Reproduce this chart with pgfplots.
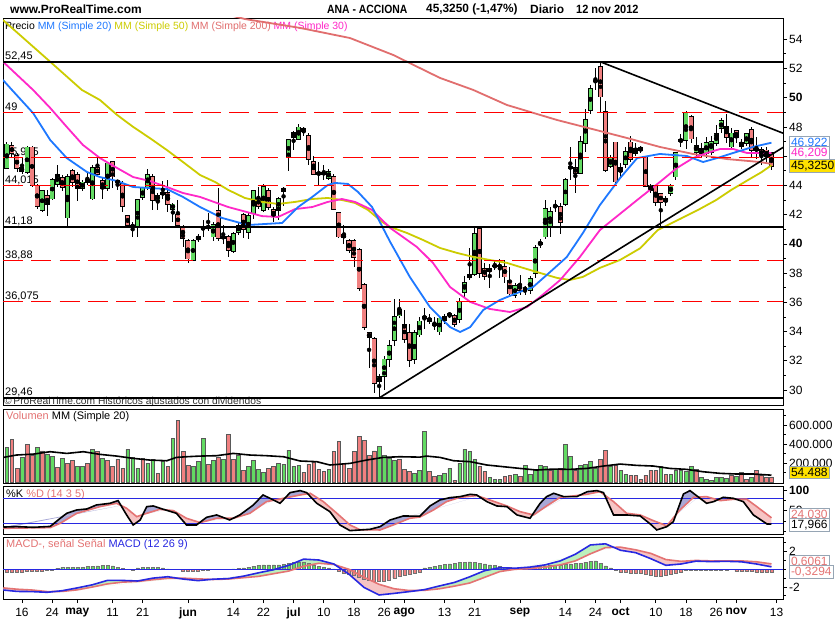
\documentclass[border=0pt]{standalone}
\usepackage{graphicx}
\usepackage{pgfplots}
\pgfplotsset{compat=1.18}
\usepackage{pgfplotstable}
\usepackage{fontspec}
\setmainfont{Liberation Sans}
\setsansfont{Liberation Sans}

\definecolor{upf}{RGB}{98,218,98}
\definecolor{dnf}{RGB}{240,128,128}
\definecolor{maA}{RGB}{30,120,255}
\definecolor{maB}{RGB}{204,204,0}
\definecolor{maC}{RGB}{225,110,110}
\definecolor{maD}{RGB}{255,40,200}
\definecolor{sal}{RGB}{228,115,115}
\definecolor{lav}{RGB}{168,168,214}
\definecolor{pnk}{RGB}{246,196,196}
\definecolor{grf}{RGB}{188,240,188}
\definecolor{bl}{RGB}{40,40,225}
\definecolor{boxg}{RGB}{150,165,180}
\definecolor{ybox}{RGB}{255,225,0}

\newcommand{\fs}[1]{\fontsize{#1}{#1}\selectfont}

% ---------- candles (index 0 = 16 Apr 2012) ----------
\pgfplotstableread{
x o h l c
-3 45.2 47.0 45.1 46.8
1 44.9 46.7 44.8 46.6
4 42.3 43.7 42.2 43.6
6 43.1 44.5 43.0 44.4
7 44.1 45.4 43.9 44.7
9 41.8 44.8 41.2 44.6
12 43.8 44.4 43.6 44.2
14 43.1 45.4 43.0 45.2
17 43.8 45.6 43.6 45.5
22 41.2 41.5 40.5 41.25
23 41.2 43.1 40.5 43.0
24 43.2 43.9 43.0 43.8
25 43.9 45.1 43.7 44.7
27 43.0 43.5 42.3 43.3
28 43.4 44.3 43.1 43.5
30 42.4 42.8 41.5 42.7
34 38.9 40.3 38.8 40.2
35 40.3 40.7 40.1 40.5
36 41.05 41.6 40.5 41.1
37 41.1 42.1 40.9 41.2
38 40.5 41.5 40.2 41.3
42 39.5 40.8 39.4 40.7
43 40.8 41.5 40.6 41.25
45 40.8 42.2 40.3 41.9
46 42.1 43.7 41.7 43.6
48 42.3 44.1 42.2 43.9
51 42.3 43.2 41.6 43.1
52 43.6 43.9 42.6 43.8
53 45.97 47.2 45.0 47.1
55 47.15 48.2 47.1 47.97
60 44.8 45.4 44.4 44.85
61 44.5 45.1 44.4 44.9
71 30.6 31.1 29.46 30.9
72 30.97 32.3 30.0 32.1
73 32.1 33.4 31.6 33.0
74 33.4 36.2 33.0 35.0
75 35.1 36.2 34.9 35.5
78 32.1 34.1 31.8 33.9
79 33.8 35.0 33.6 34.7
80 34.95 35.6 34.2 35.0
83 34.0 35.1 33.8 34.9
84 34.8 35.2 34.5 35.0
85 35.15 35.3 34.9 35.2
87 34.85 36.3 34.6 36.05
88 36.7 37.8 36.4 37.35
89 37.7 39.7 37.5 37.9
90 37.95 41.1 37.8 40.7
94 38.45 38.9 38.2 38.5
98 36.5 37.3 36.3 37.1
100 36.9 37.1 36.5 36.95
101 36.85 37.8 36.6 37.6
102 38.0 39.9 37.7 39.7
103 40.0 40.3 39.7 40.1
104 40.5 43.0 40.3 42.4
105 41.25 42.5 40.5 42.2
106 42.55 43.0 42.2 42.6
108 42.7 44.5 42.6 44.4
109 45.2 46.6 44.4 45.25
111 44.85 47.4 44.8 47.0
112 46.9 49.2 46.3 48.5
113 49.16 50.9 48.9 50.6
114 51.1 52.0 50.5 51.15
117 45.3 46.1 45.2 45.85
119 44.94 45.5 44.5 45.17
120 45.44 46.6 45.2 46.31
122 46.2 46.9 46.0 46.53
128 42.9 43.3 42.6 43.1
129 43.5 44.1 43.3 44.0
130 44.6 46.3 44.4 46.2
132 47.1 49.1 46.5 48.95
134 46.3 47.3 45.9 46.7
135 46.2 46.9 45.9 46.5
136 46.2 47.3 45.9 46.9
137 46.3 47.4 46.1 47.0
138 46.9 48.1 46.7 47.5
139 47.9 48.6 47.6 48.4
141 46.65 47.9 46.4 47.55
143 46.7 47.2 46.5 46.9
144 46.9 47.6 46.7 47.5
}\upC
\pgfplotstableread{
x o h l c
-2 46.7 47.0 45.9 46.2
-1 46.0 46.2 44.95 45.2
0 45.2 45.9 44.8 45.0
2 46.6 46.7 43.9 44.0
3 44.0 44.1 42.4 42.6
5 43.3 43.7 41.9 42.7
8 44.5 44.7 43.6 43.9
10 45.0 45.1 43.9 44.2
11 44.7 44.9 42.9 43.8
13 44.4 44.9 44.0 44.2
15 45.2 46.1 44.6 44.8
16 44.3 44.6 43.1 43.8
18 45.6 45.7 43.8 44.6
19 44.3 44.4 43.7 44.2
20 44.1 44.3 42.2 42.6
21 41.9 42.0 41.2 41.3
26 44.6 44.8 42.3 43.0
29 43.5 44.4 42.2 42.7
31 42.0 43.0 41.2 41.3
32 41.2 41.3 39.8 40.4
33 40.2 40.3 38.7 39.0
39 42.25 43.8 40.2 40.4
40 40.5 41.3 40.0 40.4
41 40.5 40.6 39.1 39.6
44 42.0 42.1 40.4 41.0
47 43.1 43.9 42.4 42.6
49 43.6 43.8 42.3 42.5
50 42.3 42.5 41.5 41.9
54 47.6 47.7 46.4 47.3
56 47.9 48.0 47.4 47.7
57 47.4 47.6 45.4 45.8
58 45.6 46.0 44.7 44.8
59 44.85 45.6 44.0 44.8
62 44.6 44.8 42.3 42.4
63 42.1 42.2 40.4 40.5
64 40.6 41.3 40.0 40.45
65 40.2 40.3 39.4 39.6
66 40.2 40.3 38.4 39.1
67 39.6 39.7 36.8 36.96
68 37.2 37.3 34.1 34.3
69 33.9 34.0 31.5 33.6
70 33.5 33.6 29.8 30.5
76 34.45 35.5 33.2 33.5
77 33.9 34.5 31.6 32.06
81 34.9 35.2 34.5 34.7
82 34.5 35.0 34.1 34.45
86 35.1 35.2 34.3 34.5
91 41.0 41.2 37.7 37.99
92 38.3 38.7 37.5 37.8
93 38.3 38.6 37.0 38.1
95 38.5 38.95 37.7 38.45
96 38.45 38.9 37.3 37.76
97 37.5 38.45 36.4 36.6
99 37.2 37.9 36.5 36.85
107 42.55 42.8 40.7 41.5
110 45.2 45.8 43.5 44.85
115 52.12 52.45 49.04 50.07
116 49.0 49.8 44.9 45.05
118 46.94 47.0 44.0 44.26
121 46.94 47.4 45.6 45.78
123 46.58 46.7 46.2 46.42
124 45.92 46.0 43.9 43.96
125 44.0 44.1 43.5 43.7
126 43.96 44.0 42.6 42.88
127 43.4 43.5 41.1 42.88
131 47.15 47.5 46.6 47.0
133 48.7 48.8 46.9 47.2
140 48.0 48.9 46.9 47.3
142 47.7 47.8 46.9 47.3
145 47.8 48.0 45.9 46.4
146 46.5 47.3 45.8 46.4
147 46.42 46.6 45.4 46.08
148 46.4 46.6 45.5 46.0
149 46.2 46.3 45.05 45.325
}\dnC

% ---------- moving averages ----------
\pgfplotstableread{
x y
-3.78 51.21
-2.0 50.53
2.2 48.95
5.6 47.11
8.9 45.87
12.9 44.92
15.5 44.57
18.9 44.30
22.1 43.89
25.4 43.82
28.8 43.75
32.0 43.21
35.4 42.52
39.8 41.77
44.9 41.29
51.7 41.43
54.9 42.52
57.7 43.21
60.8 44.03
62.2 44.17
64.8 44.10
66.8 43.55
69.6 42.52
73.2 40.13
77.1 37.74
81.1 35.68
85.1 34.31
87.1 33.97
89.1 34.31
91.7 35.48
95.0 36.16
98.4 36.64
101.6 37.05
105.0 38.08
108.3 39.10
111.5 40.74
114.9 42.66
118.9 44.50
122.3 45.87
126.8 46.15
132.2 46.01
135.4 45.60
138.2 45.87
141.4 46.22
145.3 46.63
149 46.92
}\maTw
\pgfplotstableread{
x y
-3.78 52.46
2.2 50.53
5.6 49.30
8.9 48.0
12.1 46.77
15.5 45.87
18.9 45.19
22.1 44.57
25.4 44.30
28.8 43.89
32.0 43.48
35.4 43.21
41.0 42.52
47.7 41.90
50.9 41.84
54.3 42.38
57.7 42.52
60.8 42.87
63.6 43.07
66.2 42.87
69.6 42.32
73.2 41.09
78.5 39.79
81.7 38.70
85.1 37.05
89.1 36.03
93.0 35.55
97.0 35.34
100.4 35.68
103.0 36.37
107.0 37.53
110.9 39.10
114.9 40.95
122.3 43.0
126.8 44.23
130.2 45.19
133.4 45.87
136.2 46.22
138.8 46.49
141.4 46.49
144.1 46.22
146.7 46.22
149 46.21
}\maTh
\pgfplotstableread{
x y
-3.78 55.31
5.2 52.58
11.9 50.53
15.5 49.84
18.9 48.82
22.1 48.0
25.4 47.24
28.8 46.42
32.0 45.60
35.4 44.71
38.4 44.23
41.0 43.69
44.3 43.14
47.7 42.87
50.9 42.73
54.3 42.87
57.7 43.07
60.8 43.14
63.6 43.00
66.2 42.80
68.8 42.32
71.6 41.50
73.2 41.16
76.5 40.75
79.7 40.27
83.1 39.72
86.5 39.38
89.7 39.11
93.0 38.90
96.4 38.70
99.6 38.36
103.0 38.01
106.4 37.67
108.9 37.53
111.5 37.74
114.9 38.36
118.9 38.90
122.9 39.70
126.4 40.95
130.8 41.70
134.4 42.32
138.0 43.00
141.0 43.69
144.5 44.40
147.0 44.90
149 45.38
}\maFi
\pgfplotstableread{
x y
28 57.5
35 56.2
44.3 55.38
55.3 54.77
65.2 54.08
73.8 52.92
83.1 51.35
89.7 50.53
96.4 49.5
106.4 48.47
114.9 47.72
120.3 47.24
126.8 46.63
133.4 46.15
140.2 45.8
146.7 45.6
149 45.47
}\maTwoH

% ---------- volume (thousands) ----------
\pgfplotstableread{
x v
-3 365
0 259
3 365
5 294
6 273
8 249
11 168
12 161
14 344
16 249
21 344
22 259
23 143
25 196
26 238
28 214
30 459
34 161
35 214
36 459
38 231
40 238
43 284
45 168
46 231
47 133
48 101
51 196
52 189
53 336
54 168
55 179
61 133
71 379
72 284
73 249
74 224
78 91
79 126
80 530
83 73
84 91
85 143
87 196
88 344
89 319
90 238
93 49
94 31
95 31
98 84
100 179
101 84
102 126
103 179
104 168
106 133
108 400
109 273
111 179
112 189
113 221
114 143
117 161
119 119
120 84
127 161
129 84
130 126
131 126
132 108
133 168
135 49
136 31
137 21
138 49
139 49
140 38
142 63
145 49
}\volG
\pgfplotstableread{
x v
-2 449
-1 143
1 400
2 284
4 329
7 154
9 196
10 231
13 196
15 326
17 224
18 168
19 238
20 143
24 249
27 91
29 161
31 645
32 319
33 179
37 189
39 259
41 501
42 238
44 126
49 143
50 168
56 101
57 189
58 203
59 133
60 115
62 326
63 431
64 196
65 143
66 319
67 484
68 442
69 284
70 329
75 238
76 133
77 108
81 115
82 63
86 21
91 168
92 108
96 56
97 73
99 63
105 126
107 143
110 126
115 238
116 336
118 179
121 73
122 73
123 31
124 73
125 119
126 119
128 84
134 133
141 73
143 98
144 28
146 119
147 73
148 45
149 54.5
}\volR
\pgfplotstableread{
x v
-3.7 259
-1.1 284
2.3 294
5.6 319
8.9 301
12.2 319
15.5 291
18.8 273
22.1 249
25.4 231
28.8 224
30.7 259
32.7 266
35.4 273
38.7 277
42.0 301
45.3 284
48.6 277
52.0 266
55.3 221
58.6 214
61.2 179
65.2 196
68.5 231
71.8 259
75.1 266
79.1 262
80.4 273
83.1 259
85.8 224
89.1 214
92.4 179
95.7 161
99.0 143
102.3 126
105.6 136
108.9 133
112.3 143
115.6 168
118.9 189
122.2 175
125.5 168
128.8 143
132.1 133
135.4 108
138.8 91
142.1 84
145.4 84
148.7 73
149 72
}\volMA

% ---------- stochastic %K and %D ----------
\pgfplotstableread{
x y
-3.7 11
-1.1 12
2.3 10.4
5.6 12.5
7.6 32
8.9 44
10.9 52
12.9 54.4
14.8 64
17.5 68
19.1 74.4
19.68 62.7
20.8 40
22.1 16
23.5 28
24.02 40.9
24.8 60
26.1 61.6
28.1 53.6
28.43 52.4
30.7 44
32.7 16
34.7 16
35.34 21.9
36.7 34.4
38.7 40
40.43 32
41.3 28
41.97 32
43.3 40
46.0 64
47.9 88
49.3 80
50.06 75.4
51.3 68
52.29 80.7
53.3 93.6
55.3 98.4
56.6 93.6
56.80 91.0
58.6 68
61.2 48
63.2 16
65.2 2.4
67.2 4
67.74 4.43
69.2 5.6
71.2 12
73.2 28
75.8 37.6
79.1 37
81.1 61.6
83.1 76
85.1 81.6
87.1 84
89.1 89.6
90.4 88
90.8 84.8
92.4 72
94.4 61.6
96.4 60
98.4 40
101.0 32
101.48 40.6
103.0 68
104.3 84
105.7 92
107.7 84
108.3 84
110.3 84
110.92 87.6
112.4 96
114.3 98.4
115.6 93.6
115.81 87.9
117.6 40
120.2 40
122.9 37.6
124.9 18.4
126.2 4
128.2 12
129.5 24
129.98 40.1
131.5 90.4
132.8 98.4
134.47 83.0
134.8 80
136.1 68
137.5 72
138.28 76.3
139.4 82.4
141.4 80
142.0 77.6
143.4 72
145.4 40
148.1 18.4
149 17.97
}\stK
\pgfplotstableread{
x y
-3.7 8
5.6 9.6
7.6 20
10.9 44
15.5 60
18.8 68
19.68 62.7
20.8 56
22.8 36
24.02 40.9
24.8 44
27.4 53.6
28.43 52.4
30.1 50.4
32.7 32
35.34 21.9
35.4 21.6
38.7 32
40.43 32
41.97 32
42.0 32
45.3 44
48.6 72
50.06 75.4
52.0 80
52.29 80.7
55.3 88
56.80 91.0
57.3 92
59.9 72
62.6 44
65.2 16
67.2 4.5
67.74 4.43
71.2 4
73.8 16
77.1 32
79.1 35
81.8 52
84.4 72
87.1 82.4
90.4 86.4
90.8 84.8
93.0 76
96.4 61.6
99.0 48
101.48 40.6
101.7 40
104.3 61.6
107.0 82.4
108.3 84
109.6 85.6
110.92 87.6
112.3 89.6
114.9 96
115.81 87.9
117.6 72
120.2 44
122.9 40
125.5 26.4
128.2 14
129.98 40.1
130.8 52
133.5 82.4
134.47 83.0
136.1 84
138.28 76.3
138.8 74.4
141.4 77.6
142.0 77.6
144.1 77.6
145.9 61.6
148.7 36
149 33
}\stD
% band = %K forward, then %D backward
\pgfplotstableread{
x y
-3.7 11
-1.1 12
2.3 10.4
5.6 12.5
7.6 32
8.9 44
10.9 52
12.9 54.4
14.8 64
17.5 68
19.1 74.4
19.68 62.7
20.8 40
22.1 16
23.5 28
24.02 40.9
24.8 60
26.1 61.6
28.1 53.6
28.43 52.4
30.7 44
32.7 16
34.7 16
35.34 21.9
36.7 34.4
38.7 40
40.43 32
41.3 28
41.97 32
43.3 40
46.0 64
47.9 88
49.3 80
50.06 75.4
51.3 68
52.29 80.7
53.3 93.6
55.3 98.4
56.6 93.6
56.80 91.0
58.6 68
61.2 48
63.2 16
65.2 2.4
67.2 4
67.74 4.43
69.2 5.6
71.2 12
73.2 28
75.8 37.6
79.1 37
81.1 61.6
83.1 76
85.1 81.6
87.1 84
89.1 89.6
90.4 88
90.8 84.8
92.4 72
94.4 61.6
96.4 60
98.4 40
101.0 32
101.48 40.6
103.0 68
104.3 84
105.7 92
107.7 84
108.3 84
110.3 84
110.92 87.6
112.4 96
114.3 98.4
115.6 93.6
115.81 87.9
117.6 40
120.2 40
122.9 37.6
124.9 18.4
126.2 4
128.2 12
129.5 24
129.98 40.1
131.5 90.4
132.8 98.4
134.47 83.0
134.8 80
136.1 68
137.5 72
138.28 76.3
139.4 82.4
141.4 80
142.0 77.6
143.4 72
145.4 40
148.1 18.4
149 17.97
149 33
148.7 36
145.9 61.6
144.1 77.6
142.0 77.6
141.4 77.6
138.8 74.4
138.28 76.3
136.1 84
134.47 83.0
133.5 82.4
130.8 52
129.98 40.1
128.2 14
125.5 26.4
122.9 40
120.2 44
117.6 72
115.81 87.9
114.9 96
112.3 89.6
110.92 87.6
109.6 85.6
108.3 84
107.0 82.4
104.3 61.6
101.7 40
101.48 40.6
99.0 48
96.4 61.6
93.0 76
90.8 84.8
90.4 86.4
87.1 82.4
84.4 72
81.8 52
79.1 35
77.1 32
73.8 16
71.2 4
67.74 4.43
67.2 4.5
65.2 16
62.6 44
59.9 72
57.3 92
56.80 91.0
55.3 88
52.29 80.7
52.0 80
50.06 75.4
48.6 72
45.3 44
42.0 32
41.97 32
40.43 32
38.7 32
35.4 21.6
35.34 21.9
32.7 32
30.1 50.4
28.43 52.4
27.4 53.6
24.8 44
24.02 40.9
22.8 36
20.8 56
19.68 62.7
18.8 68
15.5 60
10.9 44
7.6 20
5.6 9.6
-3.7 8
}\stBand

% ---------- MACD ----------
\pgfplotstableread{
x y
-3.7 -2.34
-1 -2.50
2 -2.52
5 -2.60
6.5 -2.51
8 -2.42
11 -2.10
14 -1.75
17 -1.25
20 -1.26
23 -1.32
26 -1.00
29 -0.84
30.93 -1.01
32 -1.10
35 -1.28
37.61 -1.14
38 -1.12
41 -1.05
44 -0.78
47 -0.40
50 -0.05
53 0.45
56 1.15
59 1.05
62 0.60
62.25 0.50
65 -0.55
68 -2.05
71 -2.90
74 -2.72
77 -2.52
78.8 -2.39
80 -2.30
83 -1.88
86 -1.48
89 -0.85
92 -0.15
95 0.18
98 0.12
101 0.25
104 0.50
107 0.95
110 1.70
113 2.75
116 2.88
117.65 2.48
119 2.15
122 1.88
125 1.20
128 0.45
131 0.60
134 0.92
137 0.87
140 0.90
143 0.85
146 0.60
149 0.28
}\mcM
\pgfplotstableread{
x y
-3.7 -2.10
-1 -2.25
2 -2.34
5 -2.52
6.5 -2.51
8 -2.50
11 -2.32
14 -2.00
17 -1.65
20 -1.45
23 -1.37
26 -1.18
29 -1.02
30.93 -1.01
32 -1.00
35 -1.08
37.61 -1.14
38 -1.15
41 -1.10
44 -0.95
47 -0.80
50 -0.50
53 -0.20
56 0.35
59 0.68
62 0.55
62.25 0.50
65 0.00
68 -0.90
71 -1.70
74 -2.20
77 -2.40
78.8 -2.39
80 -2.38
83 -2.20
86 -1.90
89 -1.55
92 -0.90
95 -0.25
98 0.00
101 0.08
104 0.25
107 0.50
110 0.95
113 1.75
116 2.45
117.65 2.48
119 2.50
122 2.20
125 1.80
128 1.10
131 0.90
134 1.00
137 0.95
140 0.95
143 0.95
146 0.85
149 0.61
}\mcS
% band = MACD forward, then signal backward
\pgfplotstableread{
x y
-3.7 -2.34
-1 -2.50
2 -2.52
5 -2.60
6.5 -2.51
8 -2.42
11 -2.10
14 -1.75
17 -1.25
20 -1.26
23 -1.32
26 -1.00
29 -0.84
30.93 -1.01
32 -1.10
35 -1.28
37.61 -1.14
38 -1.12
41 -1.05
44 -0.78
47 -0.40
50 -0.05
53 0.45
56 1.15
59 1.05
62 0.60
62.25 0.50
65 -0.55
68 -2.05
71 -2.90
74 -2.72
77 -2.52
78.8 -2.39
80 -2.30
83 -1.88
86 -1.48
89 -0.85
92 -0.15
95 0.18
98 0.12
101 0.25
104 0.50
107 0.95
110 1.70
113 2.75
116 2.88
117.65 2.48
119 2.15
122 1.88
125 1.20
128 0.45
131 0.60
134 0.92
137 0.87
140 0.90
143 0.85
146 0.60
149 0.28
149 0.61
146 0.85
143 0.95
140 0.95
137 0.95
134 1.00
131 0.90
128 1.10
125 1.80
122 2.20
119 2.50
117.65 2.48
116 2.45
113 1.75
110 0.95
107 0.50
104 0.25
101 0.08
98 0.00
95 -0.25
92 -0.90
89 -1.55
86 -1.90
83 -2.20
80 -2.38
78.8 -2.39
77 -2.40
74 -2.20
71 -1.70
68 -0.90
65 0.00
62.25 0.50
62 0.55
59 0.68
56 0.35
53 -0.20
50 -0.50
47 -0.80
44 -0.95
41 -1.10
38 -1.15
37.61 -1.14
35 -1.08
32 -1.00
30.93 -1.01
29 -1.02
26 -1.18
23 -1.37
20 -1.45
17 -1.65
14 -2.00
11 -2.32
8 -2.50
6.5 -2.51
5 -2.52
2 -2.34
-1 -2.25
-3.7 -2.10
}\mcBand
\pgfplotstableread{
x y
7 0.1
8 0.2
9 0.25
10 0.25
11 0.25
12 0.25
13 0.3
14 0.35
15 0.4
16 0.45
17 0.45
18 0.4
19 0.25
20 0.1
21 0.02
23 0.15
24 0.2
25 0.2
26 0.2
27 0.2
28 0.15
29 0.05
30 0.02
38 0.02
39 0.02
41 0.02
42 0.05
43 0.1
44 0.15
45 0.25
46 0.35
47 0.45
48 0.5
49 0.5
50 0.5
51 0.5
52 0.55
53 0.7
54 0.8
55 0.85
56 0.8
57 0.7
58 0.5
59 0.35
60 0.25
61 0.15
62 0.05
80 0.15
81 0.25
82 0.35
83 0.45
84 0.55
85 0.6
86 0.7
87 0.75
88 0.8
89 0.85
90 0.8
91 0.7
92 0.6
93 0.5
94 0.45
95 0.35
96 0.25
97 0.2
98 0.1
99 0.05
100 0.05
101 0.1
102 0.2
103 0.3
104 0.4
105 0.45
106 0.5
107 0.5
108 0.55
109 0.6
110 0.65
111 0.7
112 0.8
113 0.9
114 0.95
115 0.7
116 0.4
117 0.15
}\hiP
\pgfplotstableread{
x y
-3 -0.35
-2 -0.35
-1 -0.3
0 -0.3
1 -0.25
2 -0.25
3 -0.2
4 -0.2
5 -0.15
6 -0.05
22 -0.1
31 -0.02
32 -0.2
33 -0.25
34 -0.25
35 -0.2
36 -0.15
37 -0.05
63 -0.2
64 -0.4
65 -0.55
66 -0.7
67 -0.9
68 -1.1
69 -1.25
70 -1.4
71 -1.4
72 -1.3
73 -1.2
74 -1.0
75 -0.8
76 -0.65
77 -0.55
78 -0.45
79 -0.3
118 -0.15
119 -0.3
120 -0.35
121 -0.4
122 -0.4
123 -0.45
124 -0.55
125 -0.65
126 -0.75
127 -0.75
128 -0.7
129 -0.55
130 -0.45
131 -0.3
132 -0.15
133 -0.1
134 -0.1
135 -0.05
136 -0.15
137 -0.15
138 -0.12
139 -0.08
140 -0.05
141 -0.02
142 -0.2
143 -0.25
144 -0.25
145 -0.25
146 -0.3
147 -0.3
148 -0.3
149 -0.33
}\hiN

\pgfplotsset{
  panel/.style={
    scale only axis, anchor=south west, width=780bp,
    xmin=-3.777, xmax=151.29,
    axis line style={black, line width=0.9bp},
    tick align=outside,
    ytick pos=right, yticklabel pos=right,
    xtick=\empty,
    major tick length=4bp, minor tick length=2.5bp,
    tick style={black, line width=0.7bp},
    yticklabel style={font=\fs{12}, anchor=west, inner sep=1bp, xshift=1bp},
    clip=true,
  },
  wick/.style={only marks, mark=none, forget plot,
    error bars/.cd, y dir=both, y explicit, error mark=none,
    error bar style={black, line width=0.9bp}},
  bodyo/.style={only marks, mark=none, forget plot,
    error bars/.cd, y dir=both, y explicit, error mark=none,
    error bar style={black, line width=5bp}},
  bodyf/.style={only marks, mark=none, forget plot,
    error bars/.cd, y dir=both, y explicit, error mark=none,
    error bar style={#1, line width=3.4bp}},
}

\begin{document}
\begin{tikzpicture}
\fill[white] (0bp,0bp) rectangle (835bp,620bp);

% ---- texts under the plots ----
\node[anchor=west,font=\fs{12}\bfseries,inner sep=0] at (10bp,610.5bp) {www.ProRealTime.com};
\node[anchor=west,inner sep=0] at (327bp,610.5bp) {\fs{12}\bfseries\scalebox{0.87}[1]{ANA - ACCIONA}};
\node[anchor=west,inner sep=0] at (426bp,610.5bp) {\fs{12}\bfseries\scalebox{0.99}[1]{45,3250 (-1,47\%)}};
\node[anchor=west,inner sep=0] at (530bp,610.5bp) {\fs{12}\bfseries Diario};
\node[anchor=west,inner sep=0] at (576bp,610.5bp) {\fs{12}\bfseries\scalebox{0.92}[1]{12 nov 2012}};
\node[anchor=west,font=\fs{10.5},inner sep=0] at (5bp,593bp) {Precio \textcolor{maA}{MM (Simple 20)} \textcolor{maB}{MM (Simple 50)} \textcolor{maC}{MM (Simple 200)} \textcolor{maD}{MM (Simple 30)}};
\begin{scope}[every node/.style={anchor=base west,font=\fs{11},inner sep=0}]
\node at (5bp,560.1bp) {52,45};
\node at (5bp,509.7bp) {49};
\node at (5bp,464.6bp) {45,915};
\node at (5bp,436.8bp) {44,015};
\node at (5bp,395.4bp) {41,18};
\node at (5bp,361.7bp) {38,88};
\node at (5bp,320.7bp) {36,075};
\node at (5bp,224bp) {29,46};
\end{scope}
\node[anchor=west,font=\fs{10.3},inner sep=0,text=black!80] at (4bp,218.5bp) {\textcopyright\,ProRealTime.com Históricos ajustados con dividendos};
\node[anchor=west,font=\fs{11},inner sep=0] at (6bp,203bp) {\textcolor{sal}{Volumen} MM (Simple 20)};
\node[anchor=west,font=\fs{11},inner sep=0] at (6bp,125bp) {\%K \textcolor{sal}{\%D (14 3 5)}};
\node[anchor=west,font=\fs{11},inner sep=0] at (6bp,75bp) {\textcolor{sal}{MACD-, señal Señal} \textcolor{bl}{MACD (12 26 9)}};

% ================= PRICE =================
\begin{axis}[panel, at={(3bp,215bp)}, height=387bp, ymin=28.98, ymax=55.45,
  ytick={30,32,...,54}, minor ytick={31,33,...,53},
  yticklabels={30,32,34,36,38,\textbf{40},42,44,46,48,\textbf{50},52,54}]
\addplot[wick] table[x=x, y expr={(\thisrow{h}+\thisrow{l})/2}, y error expr={(\thisrow{h}-\thisrow{l})/2}] {\upC};
\addplot[wick] table[x=x, y expr={(\thisrow{h}+\thisrow{l})/2}, y error expr={(\thisrow{h}-\thisrow{l})/2}] {\dnC};
\addplot[bodyo] table[x=x, y expr={(\thisrow{o}+\thisrow{c})/2}, y error expr={abs(\thisrow{o}-\thisrow{c})/2+0.055}] {\upC};
\addplot[bodyo] table[x=x, y expr={(\thisrow{o}+\thisrow{c})/2}, y error expr={abs(\thisrow{o}-\thisrow{c})/2+0.055}] {\dnC};
\addplot[bodyf=upf] table[x=x, y expr={(\thisrow{o}+\thisrow{c})/2}, y error expr={abs(\thisrow{o}-\thisrow{c})/2}] {\upC};
\addplot[bodyf=dnf] table[x=x, y expr={(\thisrow{o}+\thisrow{c})/2}, y error expr={abs(\thisrow{o}-\thisrow{c})/2}] {\dnC};
\addplot[maC, line width=1.8bp] table {\maTwoH};
\addplot[maB, line width=1.8bp] table {\maFi};
\addplot[maD, line width=1.8bp] table {\maTh};
\addplot[maA, line width=1.8bp] table {\maTw};
\addplot[red, line width=1bp, dash pattern=on 20bp off 8.3bp] coordinates {(-3.777,49) (151.29,49)};
\addplot[red, line width=1bp, dash pattern=on 20bp off 8.3bp] coordinates {(-3.777,45.915) (151.29,45.915)};
\addplot[red, line width=1bp, dash pattern=on 20bp off 8.3bp] coordinates {(-3.777,44.015) (151.29,44.015)};
\addplot[red, line width=1bp, dash pattern=on 20bp off 8.3bp] coordinates {(-3.777,38.88) (151.29,38.88)};
\addplot[red, line width=1bp, dash pattern=on 20bp off 8.3bp] coordinates {(-3.777,36.075) (151.29,36.075)};
\addplot[black, line width=1.8bp] coordinates {(-3.777,52.45) (151.29,52.45)};
\addplot[black, line width=1.8bp] coordinates {(-3.777,41.18) (151.29,41.18)};
\addplot[black, line width=1.8bp] coordinates {(-3.777,29.46) (151.29,29.46)};
\addplot[black, line width=1.6bp] coordinates {(71,29.46) (151.3,46.6)};
\addplot[black, line width=1.6bp] coordinates {(115,52.45) (151.3,47.57)};
\end{axis}

% ================= VOLUME =================
\begin{axis}[panel, at={(3bp,137bp)}, height=74bp, ymin=-10.5, ymax=768.7,
  ytick={200,400,600}, minor ytick={100,300,500,700},
  yticklabels={200.000,400.000,600.000}]
\addplot[ybar, bar width=3.6bp, bar shift=0pt, fill=upf, draw=black!65, line width=0.5bp] table[x=x,y=v] {\volG};
\addplot[ybar, bar width=3.6bp, bar shift=0pt, fill=dnf, draw=black!65, line width=0.5bp] table[x=x,y=v] {\volR};
\addplot[black, line width=1.6bp] table[x=x,y=v] {\volMA};
\end{axis}

% ================= STOCHASTIC =================
\begin{axis}[panel, at={(3bp,86bp)}, height=48bp, ymin=-5.68, ymax=109.52,
  ytick={50,100}, minor ytick={0,25,75}, yticklabels={50,\textbf{100}}]
\addplot[fill=pnk, draw=none, forget plot] table {\stBand};
\addplot[fill=lav, draw=none, forget plot, restrict x to domain=-4:19.69] table {\stBand};
\addplot[fill=lav, draw=none, forget plot, restrict x to domain=24.01:28.44] table {\stBand};
\addplot[fill=lav, draw=none, forget plot, restrict x to domain=35.33:40.44] table {\stBand};
\addplot[fill=lav, draw=none, forget plot, restrict x to domain=41.96:50.07] table {\stBand};
\addplot[fill=lav, draw=none, forget plot, restrict x to domain=52.28:56.81] table {\stBand};
\addplot[fill=lav, draw=none, forget plot, restrict x to domain=67.73:90.81] table {\stBand};
\addplot[fill=lav, draw=none, forget plot, restrict x to domain=101.47:108.31] table {\stBand};
\addplot[fill=lav, draw=none, forget plot, restrict x to domain=110.91:115.82] table {\stBand};
\addplot[fill=lav, draw=none, forget plot, restrict x to domain=129.97:134.48] table {\stBand};
\addplot[fill=lav, draw=none, forget plot, restrict x to domain=138.27:142.01] table {\stBand};
\addplot[bl, line width=1bp] coordinates {(-3.777,80) (151.29,80)};
\addplot[bl, line width=1bp] coordinates {(-3.777,20) (151.29,20)};
\addplot[sal, line width=1.6bp] table {\stD};
\addplot[black, line width=1.6bp] table {\stK};
\end{axis}

% ================= MACD =================
\begin{axis}[panel, at={(3bp,21bp)}, height=62bp, ymin=-3.356, ymax=3.65,
  ytick={-2,2}, minor ytick={-3,-1,0,1,3}, yticklabels={-2,2},
  xtick={0,6,11,18,24,33,42,48,54,60,66,72,76,84,90,99,108,114,119,126,132,138,142,150},
  xticklabels={16,24,\textbf{may},11,21,\textbf{jun},14,22,\textbf{jul},10,18,26,\textbf{ago},13,21,\textbf{sep},14,24,\textbf{oct},10,18,26,\textbf{nov},13},
  xtick pos=left, xticklabel pos=left,
  xticklabel style={font=\fs{12}, anchor=north, inner sep=1bp, yshift=-4bp}]
\addplot[fill=pnk, draw=none, forget plot] table {\mcBand};
\addplot[fill=grf, draw=none, forget plot, restrict x to domain=6.49:30.94] table {\mcBand};
\addplot[fill=grf, draw=none, forget plot, restrict x to domain=37.60:62.26] table {\mcBand};
\addplot[fill=grf, draw=none, forget plot, restrict x to domain=78.79:117.66] table {\mcBand};
\addplot[ybar, bar width=3bp, bar shift=0pt, fill=upf, draw=black!55, line width=0.4bp] table {\hiP};
\addplot[ybar, bar width=3bp, bar shift=0pt, fill=dnf, draw=black!55, line width=0.4bp] table {\hiN};
\addplot[bl, line width=1bp] coordinates {(-3.777,0) (151.29,0)};
\addplot[sal, line width=1.6bp] table {\mcS};
\addplot[bl, line width=1.6bp] table {\mcM};
\end{axis}

% ---- value boxes on the right ----
\begin{scope}[every node/.style={anchor=west, font=\fs{12}, draw=boxg, line width=1bp, fill=white, inner xsep=1.5bp, inner ysep=1.5bp}]
\node[text=maA] at (789bp,477bp) {46,922};
\node[text=maD] at (789bp,467bp) {46,209};
\node[fill=ybox, text=black] at (789bp,454bp) {45,3250};
\node[fill=ybox, text=black] at (789bp,147.7bp) {54.488};
\node[text=sal] at (789bp,105bp) {24,030};
\node[text=black] at (789bp,95.3bp) {17,966};
\node[text=sal] at (789bp,58bp) {0,6061};
\node[text=sal] at (789bp,48bp) {-0,3294};
\end{scope}
\pgfresetboundingbox
\useasboundingbox (0bp,0bp) rectangle (835bp,620bp);
\end{tikzpicture}
\end{document}
